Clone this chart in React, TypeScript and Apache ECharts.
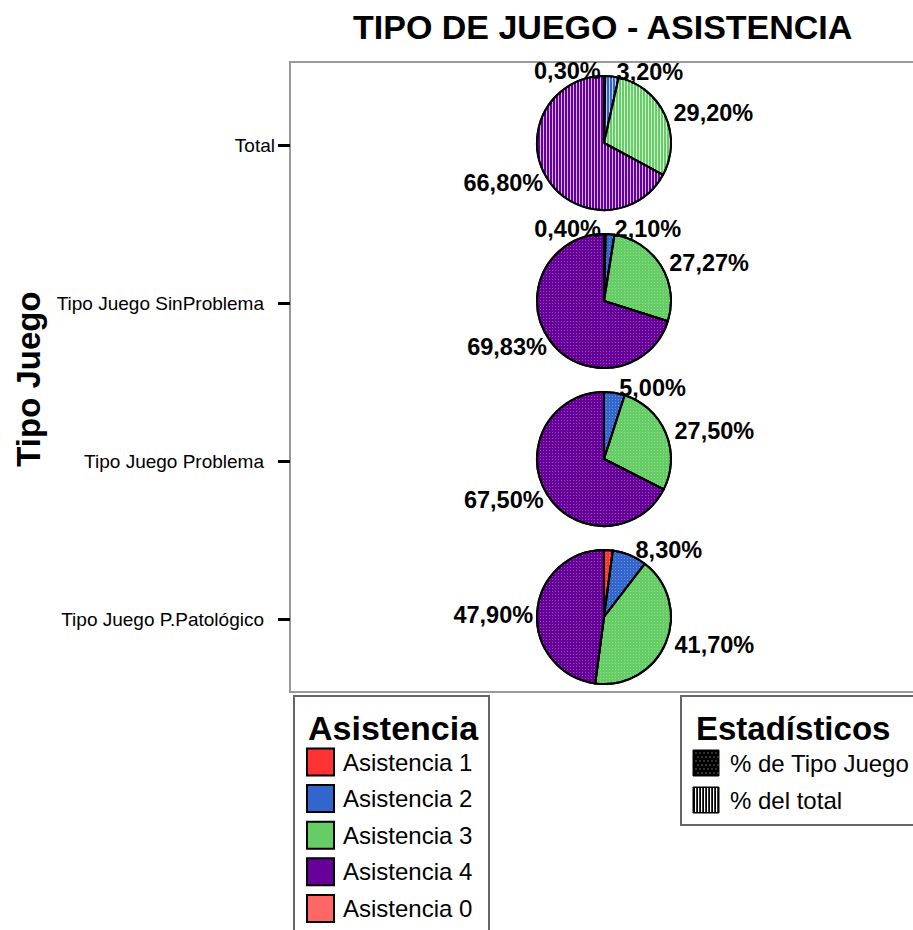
import React, { useEffect, useRef } from 'react';
import * as echarts from 'echarts';

// ---------- data ----------
const categories = ['Total', 'Tipo Juego SinProblema', 'Tipo Juego Problema', 'Tipo Juego P.Patológico'];
const asistencias = ['Asistencia 1', 'Asistencia 2', 'Asistencia 3', 'Asistencia 4', 'Asistencia 0'];
const asistenciaColors = ['#ff3333', '#3366cc', '#66cc66', '#660099', '#ff6666'];
const totalValues = [0.3, 3.2, 29.2, 66.8];
const sinProblemaValues = [0.4, 2.1, 27.27, 69.83];
const problemaValues = [0, 5.0, 27.5, 67.5];
const patologicoValues = [2.1, 8.3, 41.7, 47.9];
const unlabeled: number[][] = [[], [], [], [0]];
const estadisticos = ['% de Tipo Juego', '% del total'];
const titleText = 'TIPO DE JUEGO - ASISTENCIA';
const axisTitle = 'Tipo Juego';
const legendTitle1 = 'Asistencia';
const legendTitle2 = 'Estadísticos';

const FONT = '"Liberation Sans", Arial, Helvetica, sans-serif';
const GRID_TOP = 66;
const GRID_H = 632;
const PIE_X = 604;
const PIE_R = 67;

const fmt = (v: number) => v.toFixed(2).replace('.', ',') + '%';

export default function App() {
  const ref = useRef<HTMLDivElement>(null);
  useEffect(() => {
    if (!ref.current) return;
    const chart = echarts.init(ref.current, null, { renderer: 'svg' });
    const band = GRID_H / categories.length;
    const pieValues = [totalValues, sinProblemaValues, problemaValues, patologicoValues];

    const stripeDecal = {
      symbol: 'rect', symbolSize: 1, dashArrayX: [1, 2], dashArrayY: [6, 0],
      color: 'rgba(255,255,255,0.7)', rotation: 0,
    };
    const dotDecal = {
      symbol: 'rect', symbolSize: 1, dashArrayX: [1, 2], dashArrayY: [1, 2],
      color: 'rgba(255,255,255,0.3)', rotation: 0,
    };

    const series = pieValues.map((vals, si) => {
      const data = vals
        .map((v, i) => ({
          name: asistencias[i],
          value: v,
          itemStyle: { color: asistenciaColors[i] },
          label: { show: !unlabeled[si].includes(i) },
        }))
        .filter((d) => d.value > 0);
      return {
        type: 'pie',
        center: [PIE_X, GRID_TOP + band * (si + 0.5) - 2],
        radius: PIE_R,
        startAngle: 90,
        clockwise: true,
        avoidLabelOverlap: false,
        silent: true,
        z: 3,
        itemStyle: { borderColor: '#000', borderWidth: 2, decal: si === 0 ? stripeDecal : dotDecal },
        label: {
          show: true,
          position: 'outside',
          formatter: (p: any) => fmt(p.value),
          color: '#000',
          fontSize: 23.5,
          fontWeight: 'bold',
          fontFamily: FONT,
          distanceToLabelLine: 4,
        },
        labelLine: { show: false, length: 5, length2: 0 },
        labelLayout: (params: any) => {
          const d = data[params.dataIndex];
          if (d && d.name === asistencias[0] && d.value < 1) {
            return { dx: -(params.labelRect.width + 8) };
          }
          if (params.align === 'right') {
            return { dx: 5, dy: 3 };
          }
          return {};
        },
        data,
      };
    });

    const graphic: any[] = [];
    // plot frame
    graphic.push({
      type: 'rect', z: 0, silent: true,
      shape: { x: 290, y: 62, width: 700, height: 630 },
      style: { fill: 'none', stroke: '#999', lineWidth: 2 },
    });
    // axis title
    graphic.push({
      type: 'text', x: 28, y: 379, rotation: Math.PI / 2, silent: true,
      style: { text: axisTitle, fontSize: 33, fontWeight: 'bold', fontFamily: FONT, fill: '#000', align: 'center', verticalAlign: 'middle' },
    });
    // legend 1
    graphic.push({
      type: 'rect', silent: true,
      shape: { x: 294, y: 696, width: 195, height: 260 },
      style: { fill: '#fff', stroke: '#666', lineWidth: 2 },
    });
    graphic.push({
      type: 'text', x: 308, y: 728, silent: true,
      style: { text: legendTitle1, fontSize: 34, fontWeight: 'bold', fontFamily: FONT, fill: '#000', verticalAlign: 'middle' },
    });
    asistencias.forEach((name, i) => {
      const cy = 762 + i * 36.6;
      graphic.push({
        type: 'rect', silent: true,
        shape: { x: 307, y: cy - 13.5, width: 27, height: 27 },
        style: { fill: asistenciaColors[i], stroke: '#000', lineWidth: 2 },
      });
      graphic.push({
        type: 'text', x: 343, y: cy, silent: true,
        style: { text: name, fontSize: 24, fontFamily: FONT, fill: '#000', verticalAlign: 'middle' },
      });
    });
    // legend 2
    graphic.push({
      type: 'rect', silent: true,
      shape: { x: 681, y: 696, width: 240, height: 129 },
      style: { fill: '#fff', stroke: '#666', lineWidth: 2 },
    });
    graphic.push({
      type: 'text', x: 696, y: 728, silent: true,
      style: { text: legendTitle2, fontSize: 33, fontWeight: 'bold', fontFamily: FONT, fill: '#000', verticalAlign: 'middle' },
    });
    const swY = [763, 800];
    estadisticos.forEach((name, i) => {
      const cy = swY[i];
      const x0 = 693;
      const y0 = cy - 13;
      graphic.push({
        type: 'rect', silent: true,
        shape: { x: x0, y: y0, width: 26, height: 26 },
        style: { fill: '#000', stroke: '#000', lineWidth: 1 },
      });
      if (i === 0) {
        for (let a = 0; a < 6; a++) {
          for (let b = 0; b < 6; b++) {
            graphic.push({
              type: 'rect', silent: true,
              shape: { x: x0 + 2.5 + a * 4 + (b % 2) * 2, y: y0 + 2.5 + b * 4, width: 1, height: 1 },
              style: { fill: 'rgba(255,255,255,0.75)' },
            });
          }
        }
      } else {
        for (let a = 0; a < 8; a++) {
          graphic.push({
            type: 'rect', silent: true,
            shape: { x: x0 + 2 + a * 3, y: y0 + 1, width: 1.2, height: 24 },
            style: { fill: '#fff' },
          });
        }
      }
      graphic.push({
        type: 'text', x: 730, y: cy, silent: true,
        style: { text: name, fontSize: 24, fontFamily: FONT, fill: '#000', verticalAlign: 'middle' },
      });
    });

    chart.setOption({
      animation: false,
      backgroundColor: '#fff',
      title: {
        text: titleText,
        left: 348,
        top: 5,
        textStyle: { fontSize: 34, fontWeight: 'bold', fontFamily: FONT, color: '#000' },
      },
      grid: { left: 290, top: GRID_TOP, width: 600, height: GRID_H, show: false },
      xAxis: { type: 'value', show: false, min: 0, max: 1 },
      yAxis: {
        type: 'category',
        inverse: true,
        data: categories,
        axisLine: { show: false },
        axisTick: { show: true, alignWithLabel: true, length: 12, lineStyle: { color: '#000', width: 3 } },
        axisLabel: {
          margin: 15,
          color: '#000',
          fontSize: 19,
          fontFamily: FONT,
          formatter: (v: string) => (v === categories[0] ? v : `{p|${v}}`),
          rich: { p: { padding: [0, 11, 0, 0], fontSize: 19, fontFamily: FONT, color: '#000' } },
        },
        splitLine: { show: false },
      },
      graphic,
      series,
    });
    return () => chart.dispose();
  }, []);
  return (
    <div
      ref={ref}
      style={{ position: 'fixed', left: 0, top: 0, width: 913, height: 930, background: '#fff' }}
    />
  );
}
